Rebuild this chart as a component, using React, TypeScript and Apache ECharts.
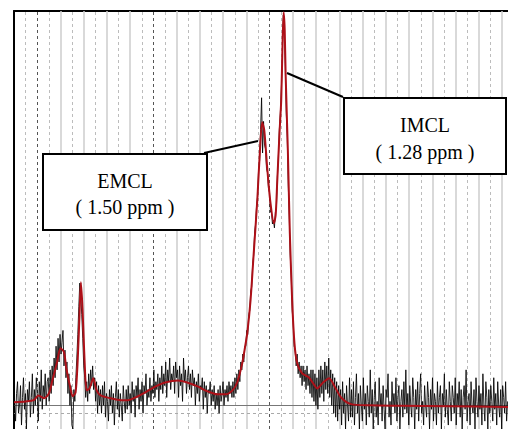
import React, { useEffect, useRef } from 'react';
import * as echarts from 'echarts';

// Fitted (red) curve: chemical shift (ppm) and amplitude (a.u.)
const fitPpm = [3.60, 3.50, 3.43, 3.39, 3.34, 3.30, 3.27, 3.23, 3.20, 3.17, 3.15, 3.12, 3.095, 3.07, 3.052, 3.035, 3.024, 3.01, 2.993, 2.975, 2.95, 2.918, 2.889, 2.855, 2.77, 2.68, 2.62, 2.555, 2.47, 2.38, 2.30, 2.19, 2.11, 2.02, 1.94, 1.85, 1.78, 1.72, 1.68, 1.636, 1.61, 1.593, 1.565, 1.536, 1.507, 1.484, 1.465, 1.447, 1.422, 1.396, 1.364, 1.349, 1.336, 1.316, 1.301, 1.289, 1.28, 1.271, 1.263, 1.244, 1.227, 1.207, 1.187, 1.164, 1.121, 1.064, 1.027, 0.992, 0.941, 0.889, 0.838, 0.786, 0.70, 0.54, 0.28, -0.15, -0.65];
const fitAmp = [0.8, 1.0, 1.3, 2.5, 1.8, 3.0, 6.3, 10.9, 14.5, 13.5, 9.4, 5.1, 2.3, 3.3, 11.4, 24.1, 31.2, 24.1, 11.4, 3.8, 4.3, 6.9, 3.8, 2.5, 1.8, 1.3, 1.3, 2.0, 3.3, 4.8, 5.8, 6.3, 5.8, 4.8, 3.6, 2.8, 2.8, 3.8, 5.8, 10.7, 15.2, 18.3, 26.6, 39.3, 52.0, 64.7, 71.8, 69.8, 60.4, 52.0, 46.2, 48.2, 56.3, 69.0, 77.4, 92.6, 99.7, 95.2, 83.8, 64.7, 43.7, 26.6, 15.7, 10.7, 8.1, 7.1, 5.6, 4.3, 5.8, 6.9, 4.6, 2.0, 0.3, 0, -0.1, -0.25, -0.4];

// Measured (black) spectrum: sampled from specStartPpm downward in steps of specStepPpm
const specStartPpm = 3.595;
const specStepPpm = 0.0085;
const specAmp = [
  // 3.60 - 3.32 ppm
  1, -4, 3, 6, -2, 0, 5, -5, 2, 7,
  -1, 3, -6, 4, 1, 6, -3, 2, 8, -2,
  4, 0, 7, 3, -4, 6, 1, 9, -1, 5,
  2, 8, 0, 6,
  // first small peak (~3.2 ppm)
  7, 1, 9, 3, 10, 5, 12, 7, 15, 9,
  17, 11, 18, 13, 16, 19, 10, 14, 7, 11,
  3, 8, 0, 5, -5,
  // sharp peak (~3.02 ppm)
  -6, 4, 1, 7, 12, 18, 25, 31, 28, 23,
  17, 10, 7, 2,
  6, 1, 8, 3, 9, 5, 10, 4, 7, 1,
  6, -2, 5, 0,
  // 2.86 - 1.72 ppm
  4, -2, 5, 0, 6, -3, 3, 1, -4, 4,
  0, 5, -2, 3, -5, 2, 6, -1, 4, -3,
  3, 0, -4, 5, 1, -2, 4, -1, 5, 0,
  3, -2, 6, 1, 4, -3, 5, 2, 7, -1,
  4, 1, 6, -2, 5, 3, 8, 0, 4, 2,
  7, 1, 5, 3, 9, 2, 6, 4, 8, 1,
  7, 4, 10, 3, 8, 5, 11, 2, 9, 6,
  12, 4, 8, 6, 10, 3, 11, 7, 9, 2,
  10, 5, 8, 1, 12, 6, 9, 3, 7, 10,
  4, 8, 2, 9, 5, 7, 0, 6, 3, 8,
  1, 5, 4, 7, -1, 6, 2, 5, -2, 4,
  3, 6, 0, 4, 1, 5, -1, 3, 0, 4,
  -2, 5, 1, 3, 6, 0, 4, 2, 5, 1,
  6, 3, 5, 2,
  // EMCL / IMCL region
  6, 2, 7, 3, 8, 4, 9, 6, 11, 9,
  13, 11, 15, 15, 19, 18, 23, 24, 29, 30,
  36, 38, 44, 46, 51, 53, 60, 62, 70, 78,
  64, 72, 66, 65, 60, 59, 55, 54, 49, 49,
  46, 47, 45, 49, 50, 58, 63, 70, 74, 80,
  88, 99, 95, 86, 74, 68, 56, 48, 38, 33,
  24, 21, 15, 14, 10, 13, 8, 11, 7, 10,
  5, 10, 6, 9, 4, 10, 5, 8, 3, 9,
  // 1.04 - 0.71 ppm
  2, 9, 1, 8, 0, 7, -1, 9, 2, 10,
  3, 9, 1, 11, 4, 10, 3, 12, 2, 9,
  0, 8, -2, 7, -3, 6, -4, 5, -1, 4,
  -5, 6, -2, 3, -6, 5, 0, -4, 7, -3,
  // 0.70 - -0.65 ppm
  4, -3, 6, -5, 2, 8, -2, 3, -6, 5,
  0, -4, 7, -1, 3, -5, 5, 1, -3, 9,
  -2, 4, -6, 2, 6, -3, 1, -5, 7, 0,
  3, -4, 5, -1, -6, 4, 2, 8, -3, 1,
  -5, 6, 0, 3, -2, 7, -4, 2, 5, -6,
  1, 4, -3, 6, -1, 9, -2, 3, -5, 5,
  0, -3, 7, 2, -6, 4, -1, 6, -4, 3,
  8, -2, 1, -5, 5, 0, -3, 6, 2, -6,
  4, -1, 7, -4, 3, 1, -5, 6, -2, 2,
  5, -6, 3, 0, 8, -3, 4, -1, -5, 6,
  1, -4, 5, 2, -2, 7, -5, 3, 0, 6,
  -3, 4, -6, 2, 5, -1, 9, -4, 1, 3,
  -5, 6, 0, -2, 4, -6, 7, 1, -3, 5,
  -1, 3, -5, 8, 0, -4, 6, 2, -6, 4,
  -2, 5, 1, -4, 7, -1, 3, -5, 6, 0,
  -3, 4, -6, 5, 2, -2, 6, -4, 1,
];

// Vertical reference lines (ppm)
const solidGridPpm = [3.2, 3.0, 2.8, 2.6, 2.2, 2.0, 1.8, 1.6, 1.2, 1.0, 0.8, 0.6, 0.4, 0.2, 0.0, -0.2, -0.4, -0.6];
const dashedGridPpm = [3.5, 3.3, 3.1, 2.9, 2.7, 2.5, 2.3, 2.1, 1.9, 1.7, 1.5, 1.3, 1.1, 0.9, 0.7, 0.5, 0.3, 0.1, -0.1, -0.3, -0.5];
const darkGridPpm = [3.4, 2.4, 1.4];
// Horizontal reference lines (amplitude)
const baselineAmp = [0];
const lowerRefAmp = [-2];

// Annotation texts
const emclLines = ['EMCL', '( 1.50 ppm )'];
const imclLines = ['IMCL', '( 1.28 ppm )'];

export default function App() {
  const ref = useRef<HTMLDivElement>(null);

  useEffect(() => {
    const chart = echarts.init(ref.current!, null, { renderer: 'svg' });
    const specData = specAmp.map((a, i) => [specStartPpm - i * specStepPpm, a]);
    const fitData = fitPpm.map((p, i) => [p, fitAmp[i]]);

    const refLines: any[] = [
      ...dashedGridPpm.map((v) => ({ xAxis: v, lineStyle: { color: '#bcbcbc', type: [3, 3], width: 1 } })),
      ...solidGridPpm.map((v) => ({ xAxis: v, lineStyle: { color: '#cdcdcd', type: 'solid', width: 1.5 } })),
      ...darkGridPpm.map((v) => ({ xAxis: v, lineStyle: { color: '#555', type: [3, 3], width: 1 } })),
      ...baselineAmp.map((v) => ({ yAxis: v, lineStyle: { color: '#777', type: 'solid', width: 1 } })),
      ...lowerRefAmp.map((v) => ({ yAxis: v, lineStyle: { color: '#aaa', type: [3, 3], width: 1 } })),
    ];

    const font = '"Liberation Serif", "Times New Roman", serif';
    const textEl = (text: string, x: number, y: number) => ({
      type: 'text',
      z: 20,
      style: { text, x, y, textAlign: 'center', textVerticalAlign: 'middle', fontSize: 20, fontFamily: font, fill: '#000' },
    });

    chart.setOption({
      animation: false,
      backgroundColor: '#fff',
      grid: { left: 14, top: 11, right: 0, bottom: 0, containLabel: false },
      xAxis: {
        type: 'value',
        inverse: true,
        min: -0.65,
        max: 3.6,
        position: 'top',
        axisLine: { show: true, onZero: false, lineStyle: { color: '#000', width: 2 } },
        axisTick: { show: false },
        axisLabel: { show: false },
        splitLine: { show: false },
      },
      yAxis: {
        type: 'value',
        min: -6,
        max: 100,
        axisLine: { show: true, onZero: false, lineStyle: { color: '#000', width: 2 } },
        axisTick: { show: false },
        axisLabel: { show: false },
        splitLine: { show: false },
      },
      series: [
        {
          type: 'line',
          name: 'ref',
          data: [],
          z: 1,
          silent: true,
          markLine: { z: 1, silent: true, symbol: 'none', label: { show: false }, data: refLines },
        },
        {
          type: 'line',
          name: 'Spectrum',
          data: specData,
          z: 3,
          showSymbol: false,
          symbol: 'none',
          lineStyle: { color: '#000', width: 0.9, opacity: 0.95 },
        },
        {
          type: 'line',
          name: 'Fit',
          data: fitData,
          z: 4,
          showSymbol: false,
          symbol: 'none',
          smooth: 0.25,
          lineStyle: { color: '#ad1018', width: 2 },
        },
      ],
      graphic: [
        { type: 'line', z: 19, shape: { x1: 204, y1: 153, x2: 258, y2: 141 }, style: { stroke: '#000', lineWidth: 2 } },
        { type: 'line', z: 19, shape: { x1: 287, y1: 73, x2: 343, y2: 97 }, style: { stroke: '#000', lineWidth: 2 } },
        { type: 'rect', z: 19, shape: { x: 43, y: 154, width: 164, height: 76 }, style: { fill: '#fff', stroke: '#000', lineWidth: 2 } },
        { type: 'rect', z: 19, shape: { x: 344, y: 98, width: 162, height: 76 }, style: { fill: '#fff', stroke: '#000', lineWidth: 2 } },
        textEl(emclLines[0], 125, 181),
        textEl(emclLines[1], 125, 207),
        textEl(imclLines[0], 425, 125),
        textEl(imclLines[1], 425, 152),
      ],
    });
    return () => chart.dispose();
  }, []);

  return (
    <div
      ref={ref}
      style={{ position: 'absolute', left: 0, top: 0, width: 508, height: 429, background: '#fff' }}
    />
  );
}
